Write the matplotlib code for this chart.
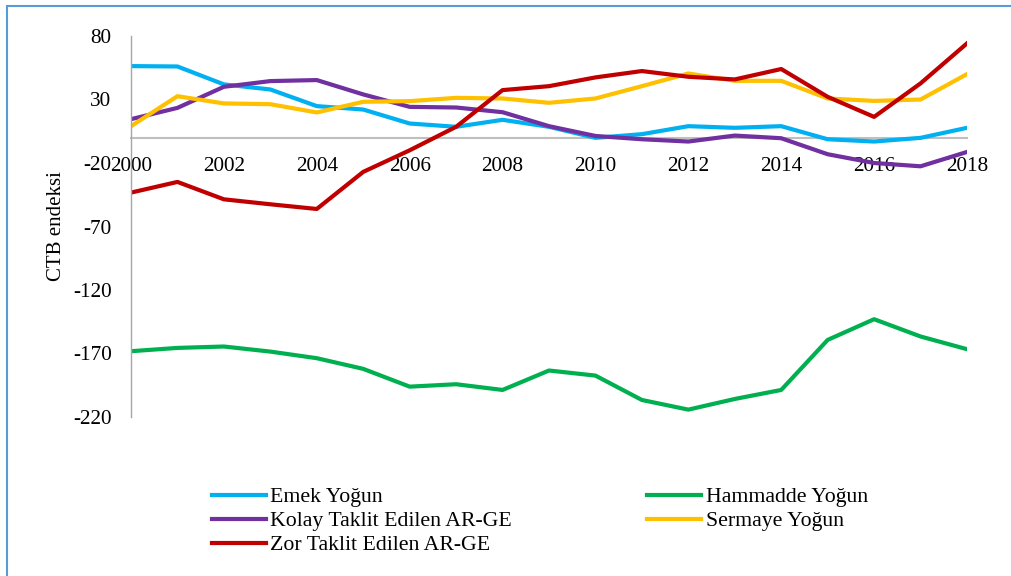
import numpy as np
import matplotlib
matplotlib.use('Agg')
import matplotlib.pyplot as plt
from matplotlib.patches import Rectangle

plt.rcParams['font.family'] = ['Liberation Serif', 'DejaVu Serif']
plt.rcParams['axes.unicode_minus'] = False

# Data #
years = list(range(2000, 2019))
emek = [56.3, 56.0, 41.9, 37.9, 24.8, 22.1, 11.1, 8.5, 14.0, 8.5, -0.2, 2.7, 9.0, 7.7, 9.0, -1.3, -3.1, -0.2, 7.7]
hammadde = [-168.2, -165.6, -164.5, -168.5, -173.7, -182.1, -196.1, -194.2, -198.7, -183.4, -187.4, -206.6,
            -214.2, -205.8, -198.7, -159.3, -143.0, -156.6, -166.6]
kolay = [14.5, 23.4, 40.0, 44.5, 45.3, 34.0, 24.2, 23.7, 20.0, 9.0, 1.3, -1.3, -3.1, 1.6, -0.5, -13.1, -20.0,
         -22.6, -11.3]
sermaye = [9.0, 32.6, 26.9, 26.3, 19.8, 28.2, 28.7, 31.3, 30.8, 27.4, 30.8, 40.5, 50.5, 44.7, 44.7, 30.8, 28.9,
           30.0, 50.0]
zor = [-43.3, -34.9, -48.6, -52.5, -56.2, -27.0, -10.0, 8.5, 37.4, 40.5, 47.4, 52.4, 47.9, 45.8, 54.0, 32.1, 16.3,
       42.7, 74.2]

xticks = list(range(2000, 2019, 2))
yticks = [-220, -170, -120, -70, -20, 30, 80]

# Figure #
fig = plt.figure(figsize=(10.12, 5.76), dpi=100)
ax = fig.add_axes([131 / 1012, 1 - 417 / 576, 836 / 1012, 381 / 576])

lw = 3
l1, = ax.plot(years, emek, color='#00B0F0', lw=lw, label='Emek Yoğun')
l2, = ax.plot(years, hammadde, color='#00B050', lw=lw, label='Hammadde Yoğun')
l3, = ax.plot(years, kolay, color='#7030A0', lw=lw, label='Kolay Taklit Edilen AR-GE')
l4, = ax.plot(years, sermaye, color='#FFC000', lw=lw, label='Sermaye Yoğun')
l5, = ax.plot(years, zor, color='#C00000', lw=lw, label='Zor Taklit Edilen AR-GE')

ax.set_xlim(2000, 2018)
ax.set_ylim(-220, 80)
ax.set_xticks(xticks)
ax.set_yticks(yticks)
ax.tick_params(axis='both', length=0, labelsize=15.3)
ax.tick_params(axis='x', pad=14)
ax.tick_params(axis='y', pad=14)

for s in ['top', 'right']:
    ax.spines[s].set_visible(False)
ax.spines['bottom'].set_position(('data', 0))
ax.spines['bottom'].set_color('#BFBFBF')
ax.spines['bottom'].set_linewidth(1.5)
ax.spines['bottom'].set_zorder(0)
ax.spines['left'].set_color('#A6A6A6')
ax.spines['left'].set_linewidth(1)

ax.set_ylabel('CTB endeksi', fontsize=15)
ax.yaxis.set_label_coords(-0.078, 0.5)

# Legend #
leg = fig.legend(handles=[l1, l3, l5, l2, l4], ncol=2, loc='upper left',
                 bbox_to_anchor=(212 / 1012, 1 - 487 / 576), frameon=False, fontsize=15.7,
                 borderpad=0, borderaxespad=0, handlelength=2.48, handletextpad=0.2,
                 labelspacing=0.17, columnspacing=6.2)

# Border #
fig.patches.append(Rectangle((7 / 1012, -0.1), 1.2, 1 - 6 / 576 + 0.1, transform=fig.transFigure,
                             fill=False, edgecolor='#5B9BD5', lw=1.5, clip_on=False))

fig.savefig('out.png', dpi=100)
